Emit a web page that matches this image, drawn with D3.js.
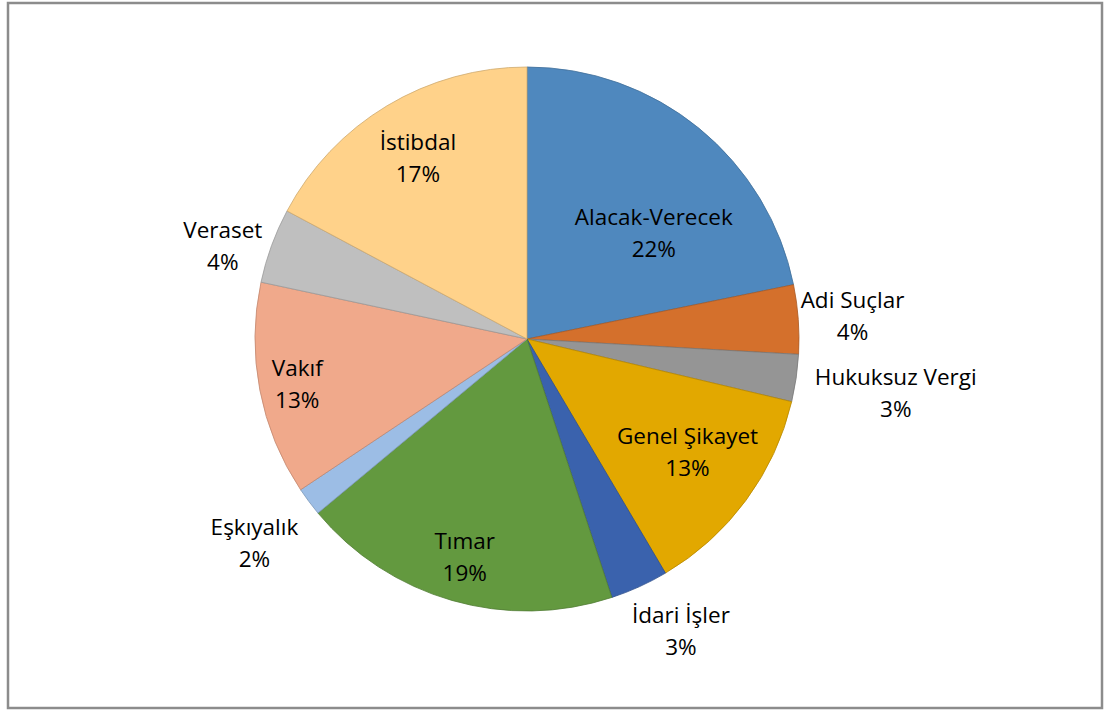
<!DOCTYPE html>
<meta charset="utf-8">
<style>
  body { margin: 0; background: #fff; }
  .frame { fill: none; stroke: #8c8c8c; stroke-width: 2.5px; }
  .lbl { font-family: 'Open Sans', sans-serif; font-size: 22.5px; fill: #000; }
</style>
<body>
<script src="https://cdnjs.cloudflare.com/ajax/libs/d3/7.8.5/d3.min.js"></script>
<script>
// slice data, clockwise from 12 o'clock
var categories = ["Alacak-Verecek", "Adi Suçlar", "Hukuksuz Vergi", "Genel Şikayet", "İdari İşler",
                  "Tımar", "Eşkıyalık", "Vakıf", "Veraset", "İstibdal"];
var shares = [21.8, 4.1, 2.8, 12.8, 3.45, 19.0, 1.7, 12.7, 4.45, 17.2];
var colors = ["#4f88be", "#d4702c", "#959595", "#e2a800", "#3a62ad",
              "#63993f", "#9cbde5", "#f0a98b", "#bfbfbf", "#ffd28a"];

// label placement (radius as fraction of pie radius, angle nudge in degrees)
var labelRadius = [0.61, 1.20, 1.37, 0.72, 1.21, 0.83, 1.25, 0.86, 1.17, 0.78];
var labelNudge  = [10.6, 0, 0, -1.4, -3.5, 0, 0, 0, -3, 0];

var width = 1104, height = 711;
var cx = 527, cy = 339, R = 272;

var svg = d3.select("body").append("svg")
  .attr("width", width)
  .attr("height", height);

svg.append("rect").attr("class", "frame")
  .attr("x", 8).attr("y", 3)
  .attr("width", 1094).attr("height", 705);

var total = d3.sum(shares);
var pie = d3.pie().sort(null).value(function(d) { return d; });
var arcs = pie(shares);

var arc = d3.arc().innerRadius(0).outerRadius(R);

var g = svg.append("g").attr("transform", "translate(" + cx + "," + cy + ")");

g.selectAll("path")
  .data(arcs)
  .enter().append("path")
  .attr("d", arc)
  .attr("fill", function(d, i) { return colors[i]; })
  .attr("stroke", function(d, i) { return d3.color(colors[i]).darker(0.6); })
  .attr("stroke-width", 0.8);

var lbl = g.selectAll("text")
  .data(arcs)
  .enter().append("text")
  .attr("class", "lbl")
  .attr("text-anchor", "middle")
  .attr("transform", function(d, i) {
    var a = (d.startAngle + d.endAngle) / 2 + labelNudge[i] * Math.PI / 180;
    var r = R * labelRadius[i];
    return "translate(" + (r * Math.sin(a)) + "," + (-r * Math.cos(a)) + ")";
  });

lbl.append("tspan").attr("x", 0).attr("dy", "-0.32em")
  .text(function(d, i) { return categories[i]; });
lbl.append("tspan").attr("x", 0).attr("dy", "1.42em")
  .text(function(d) { return Math.round(d.value / total * 100) + "%"; });
</script>
</body>
